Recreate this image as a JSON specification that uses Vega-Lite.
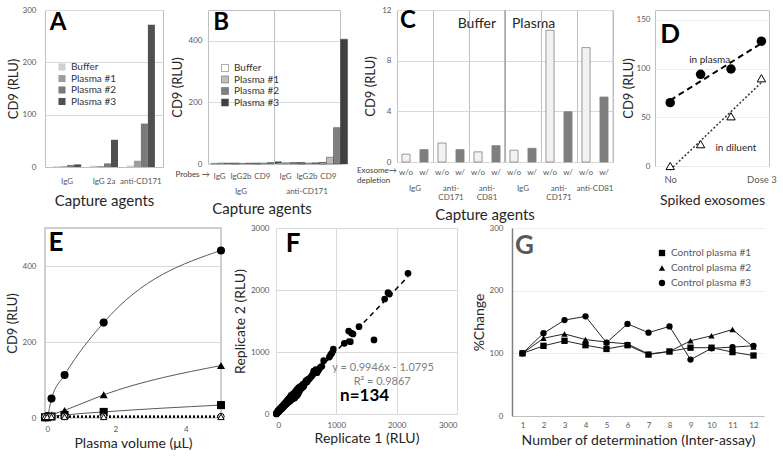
{
"$schema": "https://vega.github.io/schema/vega-lite/v6.json",
"background": "white",
"padding": 5,
"spacing": 1,
"bounds": "full",
"config": {
 "font": "Lato",
 "view": {"stroke": "#bfbfbf"},
 "axis": {"labelFontSize": 8, "labelColor": "#595959", "titleFontSize": 13, "titleFontWeight": "normal", "titleColor": "#262626", "ticks": false, "domainColor": "#bfbfbf", "gridColor": "#d9d9d9", "labelPadding": 7, "titlePadding": 3, "labelOverlap": false},
 "axisX": {"grid": false, "labelAngle": 0},
 "axisY": {"grid": true, "domain": false},
 "header": {"labelFontSize": 8, "labelColor": "#595959", "titleFontSize": 15, "titleFontWeight": "normal", "titleColor": "#262626"},
 "legend": {"labelFontSize": 10, "labelColor": "#333333"}
},
"resolve": {"scale": {"x": "independent", "y": "independent", "color": "independent", "shape": "independent"}, "axis": {"x": "independent", "y": "independent"}, "legend": {"color": "independent", "shape": "independent"}},
"vconcat": [
 {
  "spacing": 7,
  "bounds": "full",
  "resolve": {"scale": {"x": "independent", "y": "independent", "color": "independent", "shape": "independent"}, "axis": {"x": "independent", "y": "independent"}, "legend": {"color": "independent", "shape": "independent"}},
  "hconcat": [
   {
    "width": 118, "height": 157,
    "layer": [
     {
      "data": {"values": [
       {"agent": "IgG", "sample": "Buffer", "cd9": 1.5}, {"agent": "IgG", "sample": "Plasma #1", "cd9": 1.5}, {"agent": "IgG", "sample": "Plasma #2", "cd9": 4}, {"agent": "IgG", "sample": "Plasma #3", "cd9": 5},
       {"agent": "IgG 2a", "sample": "Buffer", "cd9": 2.5}, {"agent": "IgG 2a", "sample": "Plasma #1", "cd9": 2}, {"agent": "IgG 2a", "sample": "Plasma #2", "cd9": 7}, {"agent": "IgG 2a", "sample": "Plasma #3", "cd9": 52},
       {"agent": "anti-CD171", "sample": "Buffer", "cd9": 3}, {"agent": "anti-CD171", "sample": "Plasma #1", "cd9": 12}, {"agent": "anti-CD171", "sample": "Plasma #2", "cd9": 83}, {"agent": "anti-CD171", "sample": "Plasma #3", "cd9": 272}
      ]},
      "mark": {"type": "bar"},
      "encoding": {
       "x": {"field": "agent", "type": "nominal", "sort": ["IgG", "IgG 2a", "anti-CD171"], "scale": {"paddingInner": 0.24, "paddingOuter": 0.22}, "axis": {"title": "Capture agents", "labelPadding": 10, "titleFontSize": 15, "titlePadding": 8}},
       "xOffset": {"field": "sample", "type": "nominal", "sort": ["Buffer", "Plasma #1", "Plasma #2", "Plasma #3"]},
       "y": {"field": "cd9", "type": "quantitative", "scale": {"domain": [0, 300]}, "axis": {"values": [0, 100, 200, 300], "title": "CD9 (RLU)", "labelPadding": 9, "titlePadding": 2}},
       "color": {"field": "sample", "type": "nominal", "scale": {"domain": ["Buffer", "Plasma #1", "Plasma #2", "Plasma #3"], "range": ["#d0d0d0", "#9d9d9d", "#7a7a7a", "#505050"]}, "legend": {"title": null, "orient": "none", "legendX": 12, "legendY": 52, "symbolType": "square", "symbolSize": 50, "symbolStrokeWidth": 0, "rowPadding": 1.5}}
      }
     },
     {
      "data": {"values": [{}]},
      "mark": {"type": "text", "fontSize": 24, "fontWeight": "bold", "dx": -9, "baseline": "middle", "color": "#000000"},
      "encoding": {"x": {"datum": "IgG"}, "y": {"datum": 275}, "text": {"value": "A"}}
     }
    ]
   },
   {
    "data": {"values": [
     {"grp": "IgG", "probe": "IgG", "sample": "Buffer", "cd9": 2}, {"grp": "IgG", "probe": "IgG", "sample": "Plasma #1", "cd9": 3}, {"grp": "IgG", "probe": "IgG", "sample": "Plasma #2", "cd9": 3}, {"grp": "IgG", "probe": "IgG", "sample": "Plasma #3", "cd9": 3},
     {"grp": "IgG", "probe": "IgG2b", "sample": "Buffer", "cd9": 2}, {"grp": "IgG", "probe": "IgG2b", "sample": "Plasma #1", "cd9": 2}, {"grp": "IgG", "probe": "IgG2b", "sample": "Plasma #2", "cd9": 3}, {"grp": "IgG", "probe": "IgG2b", "sample": "Plasma #3", "cd9": 3},
     {"grp": "IgG", "probe": "CD9", "sample": "Buffer", "cd9": 2}, {"grp": "IgG", "probe": "CD9", "sample": "Plasma #1", "cd9": 3}, {"grp": "IgG", "probe": "CD9", "sample": "Plasma #2", "cd9": 5}, {"grp": "IgG", "probe": "CD9", "sample": "Plasma #3", "cd9": 7},
     {"grp": "anti-CD171", "probe": "IgG", "sample": "Buffer", "cd9": 3}, {"grp": "anti-CD171", "probe": "IgG", "sample": "Plasma #1", "cd9": 4}, {"grp": "anti-CD171", "probe": "IgG", "sample": "Plasma #2", "cd9": 5}, {"grp": "anti-CD171", "probe": "IgG", "sample": "Plasma #3", "cd9": 5},
     {"grp": "anti-CD171", "probe": "IgG2b", "sample": "Buffer", "cd9": 2}, {"grp": "anti-CD171", "probe": "IgG2b", "sample": "Plasma #1", "cd9": 3}, {"grp": "anti-CD171", "probe": "IgG2b", "sample": "Plasma #2", "cd9": 4}, {"grp": "anti-CD171", "probe": "IgG2b", "sample": "Plasma #3", "cd9": 5},
     {"grp": "anti-CD171", "probe": "CD9", "sample": "Buffer", "cd9": 3}, {"grp": "anti-CD171", "probe": "CD9", "sample": "Plasma #1", "cd9": 22}, {"grp": "anti-CD171", "probe": "CD9", "sample": "Plasma #2", "cd9": 118}, {"grp": "anti-CD171", "probe": "CD9", "sample": "Plasma #3", "cd9": 405},
     {"grp": "IgG", "note": "B"}, {"grp": "IgG", "note": "Probes →"}
    ]},
    "facet": {"column": {"field": "grp", "type": "nominal", "sort": ["IgG", "anti-CD171"], "header": {"labelOrient": "bottom", "titleOrient": "bottom", "title": "Capture agents", "labelPadding": 8, "titlePadding": -4}}},
    "spacing": 0,
    "bounds": "flush",
    "spec": {
     "width": 66, "height": 154,
     "layer": [
      {
       "transform": [{"filter": "isValid(datum.cd9)"}],
       "mark": {"type": "bar", "stroke": "#404040", "strokeWidth": 0.5},
       "encoding": {
        "x": {"field": "probe", "type": "nominal", "sort": ["IgG", "IgG2b", "CD9"], "scale": {"paddingInner": 0.17, "paddingOuter": 0.13}, "axis": {"title": null, "labelPadding": 8}},
        "xOffset": {"field": "sample", "type": "nominal", "sort": ["Buffer", "Plasma #1", "Plasma #2", "Plasma #3"]},
        "y": {"field": "cd9", "type": "quantitative", "scale": {"domain": [0, 500]}, "axis": {"values": [0, 100, 200, 300, 400, 500], "title": "CD9 (RLU)", "labelPadding": 6, "titlePadding": 4}},
        "color": {"field": "sample", "type": "nominal", "scale": {"domain": ["Buffer", "Plasma #1", "Plasma #2", "Plasma #3"], "range": ["#ffffff", "#bfbfbf", "#808080", "#404040"]}, "legend": {"title": null, "orient": "none", "legendX": 12, "legendY": 53, "symbolType": "square", "symbolSize": 50, "symbolStrokeColor": "#595959", "symbolStrokeWidth": 0.5, "rowPadding": 1.5}}
       }
      },
      {
       "transform": [{"filter": "datum.note == 'B'"}],
       "mark": {"type": "text", "fontSize": 24, "fontWeight": "bold", "dx": 1.5, "baseline": "middle", "color": "#000000"},
       "encoding": {"x": {"datum": "IgG"}, "y": {"datum": 459}, "text": {"field": "note"}}
      },
      {
       "transform": [{"filter": "datum.note == 'Probes →'"}],
       "mark": {"type": "text", "fontSize": 8, "align": "right", "baseline": "middle", "dx": -10, "color": "#404040"},
       "encoding": {"x": {"datum": "IgG"}, "y": {"datum": -36}, "text": {"field": "note"}}
      }
     ]
    }
   },
   {
    "data": {"values": [
     {"col": "Buffer/IgG", "dep": "w/o", "cd9": 0.62}, {"col": "Buffer/IgG", "dep": "w/", "cd9": 0.98},
     {"col": "Buffer/anti-CD171", "dep": "w/o", "cd9": 1.5}, {"col": "Buffer/anti-CD171", "dep": "w/", "cd9": 0.98},
     {"col": "Buffer/anti-CD81", "dep": "w/o", "cd9": 0.8}, {"col": "Buffer/anti-CD81", "dep": "w/", "cd9": 1.29},
     {"col": "Plasma/IgG", "dep": "w/o", "cd9": 0.93}, {"col": "Plasma/IgG", "dep": "w/", "cd9": 1.08},
     {"col": "Plasma/anti-CD171", "dep": "w/o", "cd9": 10.4}, {"col": "Plasma/anti-CD171", "dep": "w/", "cd9": 3.97},
     {"col": "Plasma/anti-CD81", "dep": "w/o", "cd9": 9.03}, {"col": "Plasma/anti-CD81", "dep": "w/", "cd9": 5.13},
     {"col": "Buffer/IgG", "note": "C"}, {"col": "Buffer/anti-CD81", "note": "Buffer"}, {"col": "Plasma/IgG", "note": "Plasma"},
     {"col": "Buffer/IgG", "note": "Exosome→\ndepletion"}, {"col": "Plasma/IgG", "note": "sep"}, {"col": "Plasma/anti-CD81", "note": "edge"}
    ]},
    "facet": {"column": {"field": "col", "type": "nominal", "sort": ["Buffer/IgG", "Buffer/anti-CD171", "Buffer/anti-CD81", "Plasma/IgG", "Plasma/anti-CD171", "Plasma/anti-CD81"], "header": {"labelOrient": "bottom", "titleOrient": "bottom", "title": "Capture agents", "labelPadding": 9, "titlePadding": -4, "labelLineHeight": 9, "labelExpr": "datum.value == 'Plasma/anti-CD81' ? 'anti-CD81' : (datum.value == 'Buffer/IgG' || datum.value == 'Plasma/IgG' ? 'IgG' : ['anti-', substring(datum.value, indexof(datum.value, 'anti-') + 5)])"}}},
    "spacing": 0,
    "bounds": "flush",
    "spec": {
     "width": 36, "height": 152,
     "layer": [
      {
       "transform": [{"filter": "isValid(datum.cd9)"}],
       "mark": {"type": "bar", "stroke": "#808080", "strokeWidth": 0.8},
       "encoding": {
        "x": {"field": "dep", "type": "nominal", "sort": ["w/o", "w/"], "scale": {"paddingInner": 0.55, "paddingOuter": 0.275}, "axis": {"title": null, "labelPadding": 6, "domainColor": "#bfbfbf"}},
        "y": {"field": "cd9", "type": "quantitative", "scale": {"domain": [0, 12]}, "axis": {"values": [0, 2, 4, 6, 8, 10, 12], "title": "CD9 (RLU)", "labelPadding": 6, "titlePadding": 4}},
        "color": {"field": "dep", "type": "nominal", "scale": {"domain": ["w/o", "w/"], "range": ["#f2f2f2", "#7f7f7f"]}, "legend": null}
       }
      },
      {
       "transform": [{"filter": "datum.note == 'sep'"}],
       "mark": {"type": "rule", "color": "#a6a6a6", "strokeWidth": 1.5, "xOffset": -4.95},
       "encoding": {"x": {"datum": "w/o", "bandPosition": 0}}
      },
      {
       "transform": [{"filter": "datum.note == 'edge'"}],
       "mark": {"type": "rule", "color": "#bfbfbf", "strokeWidth": 1, "xOffset": 4.95},
       "encoding": {"x": {"datum": "w/", "bandPosition": 1}}
      },
      {
       "transform": [{"filter": "datum.note == 'C'"}],
       "mark": {"type": "text", "fontSize": 24, "fontWeight": "bold", "align": "left", "dx": -6, "baseline": "middle", "color": "#000000"},
       "encoding": {"x": {"datum": "w/o"}, "y": {"datum": 11.1}, "text": {"field": "note"}}
      },
      {
       "transform": [{"filter": "datum.note == 'Buffer'"}],
       "mark": {"type": "text", "fontSize": 14, "align": "right", "dx": 0, "baseline": "middle", "color": "#262626"},
       "encoding": {"x": {"datum": "w/"}, "y": {"datum": 10.9}, "text": {"field": "note"}}
      },
      {
       "transform": [{"filter": "datum.note == 'Plasma'"}],
       "mark": {"type": "text", "fontSize": 14, "align": "left", "dx": -2, "baseline": "middle", "color": "#262626"},
       "encoding": {"x": {"datum": "w/o"}, "y": {"datum": 10.9}, "text": {"field": "note"}}
      },
      {
       "transform": [{"filter": "datum.note == 'Exosome→\\ndepletion'"}],
       "mark": {"type": "text", "fontSize": 8, "align": "left", "dx": -49, "baseline": "top", "lineBreak": "\n", "lineHeight": 10, "color": "#404040"},
       "encoding": {"x": {"datum": "w/o"}, "y": {"datum": -0.4}, "text": {"field": "note"}}
      }
     ]
    }
   },
   {
    "width": 114, "height": 156,
    "layer": [
     {
      "data": {"values": [
       {"dose": 0, "cd9": 65, "cond": "in plasma"}, {"dose": 1, "cd9": 94, "cond": "in plasma"}, {"dose": 2, "cd9": 99.5, "cond": "in plasma"}, {"dose": 3, "cd9": 128, "cond": "in plasma"}
      ]},
      "transform": [{"regression": "cd9", "on": "dose"}],
      "mark": {"type": "line", "color": "#000000", "strokeDash": [6, 4], "strokeWidth": 2},
      "encoding": {
       "x": {"field": "dose", "type": "quantitative", "scale": {"domain": [-0.5, 3.25], "nice": false, "zero": false}, "axis": {"values": [0, 1, 2, 3], "labelExpr": "['No', 'Dose 1', 'Dose 2', 'Dose 3'][datum.value]", "title": "Spiked exosomes", "titleFontSize": 14, "labelFontSize": 9.5, "labelPadding": 8, "titlePadding": 10, "domain": false}},
       "y": {"field": "cd9", "type": "quantitative", "scale": {"domain": [0, 150]}, "axis": {"values": [0, 50, 100, 150], "title": "CD9 (RLU)", "labelPadding": 5, "titlePadding": 1, "gridColor": "#ececec"}}
      }
     },
     {
      "data": {"values": [
       {"dose": 0, "cd9": 0, "cond": "in diluent"}, {"dose": 1, "cd9": 22.4, "cond": "in diluent"}, {"dose": 2, "cd9": 51, "cond": "in diluent"}, {"dose": 3, "cd9": 90, "cond": "in diluent"}
      ]},
      "transform": [{"regression": "cd9", "on": "dose"}],
      "mark": {"type": "line", "color": "#333333", "strokeDash": [2, 2], "strokeWidth": 1.5},
      "encoding": {"x": {"field": "dose", "type": "quantitative"}, "y": {"field": "cd9", "type": "quantitative"}}
     },
     {
      "data": {"values": [
       {"dose": 0, "cd9": 65, "cond": "in plasma"}, {"dose": 1, "cd9": 94, "cond": "in plasma"}, {"dose": 2, "cd9": 99.5, "cond": "in plasma"}, {"dose": 3, "cd9": 128, "cond": "in plasma"}
      ]},
      "mark": {"type": "point", "shape": "circle", "filled": true, "size": 90, "color": "#000000", "opacity": 1},
      "encoding": {"x": {"field": "dose", "type": "quantitative"}, "y": {"field": "cd9", "type": "quantitative"}}
     },
     {
      "data": {"values": [
       {"dose": 0, "cd9": 0, "cond": "in diluent"}, {"dose": 1, "cd9": 22.4, "cond": "in diluent"}, {"dose": 2, "cd9": 51, "cond": "in diluent"}, {"dose": 3, "cd9": 90, "cond": "in diluent"}
      ]},
      "mark": {"type": "point", "shape": "triangle-up", "filled": true, "fill": "#ffffff", "stroke": "#000000", "strokeWidth": 1, "size": 70, "opacity": 1},
      "encoding": {"x": {"field": "dose", "type": "quantitative"}, "y": {"field": "cd9", "type": "quantitative"}}
     },
     {
      "data": {"values": [{"dose": 1.3, "cd9": 109, "label": "in plasma"}, {"dose": 2.16, "cd9": 18, "label": "in diluent"}]},
      "mark": {"type": "text", "fontSize": 10, "color": "#262626", "baseline": "middle"},
      "encoding": {"x": {"field": "dose", "type": "quantitative"}, "y": {"field": "cd9", "type": "quantitative"}, "text": {"field": "label", "type": "nominal"}}
     },
     {
      "data": {"values": [{"dose": 0, "cd9": 134, "label": "D"}]},
      "mark": {"type": "text", "fontSize": 26, "fontWeight": "bold", "color": "#000000", "baseline": "middle"},
      "encoding": {"x": {"field": "dose", "type": "quantitative"}, "y": {"field": "cd9", "type": "quantitative"}, "text": {"field": "label", "type": "nominal"}}
     }
    ]
   }
  ]
 },
 {
  "spacing": 55,
  "bounds": "flush",
  "resolve": {"scale": {"x": "independent", "y": "independent", "color": "independent", "shape": "independent"}, "axis": {"x": "independent", "y": "independent"}, "legend": {"color": "independent", "shape": "independent"}},
  "hconcat": [
   {
    "width": 176, "height": 190,
    "view": {"stroke": "#bfbfbf", "strokeWidth": 1.5},
    "layer": [
     {
      "data": {"values": [
       {"vol": 0, "cd9": 2, "s": "S1"}, {"vol": 0.062, "cd9": 5, "s": "S1"}, {"vol": 0.185, "cd9": 51, "s": "S1"}, {"vol": 0.556, "cd9": 113, "s": "S1"}, {"vol": 1.667, "cd9": 251, "s": "S1"}, {"vol": 5, "cd9": 441, "s": "S1"},
       {"vol": 0, "cd9": 2, "s": "S2"}, {"vol": 0.062, "cd9": 3, "s": "S2"}, {"vol": 0.185, "cd9": 8, "s": "S2"}, {"vol": 0.556, "cd9": 20, "s": "S2"}, {"vol": 1.667, "cd9": 61, "s": "S2"}, {"vol": 5, "cd9": 138, "s": "S2"},
       {"vol": 0, "cd9": 2, "s": "S3"}, {"vol": 0.062, "cd9": 2, "s": "S3"}, {"vol": 0.185, "cd9": 4, "s": "S3"}, {"vol": 0.556, "cd9": 8, "s": "S3"}, {"vol": 1.667, "cd9": 16, "s": "S3"}, {"vol": 5, "cd9": 34, "s": "S3"},
       {"vol": 0, "cd9": 4, "s": "S4"}, {"vol": 0.062, "cd9": 4, "s": "S4"}, {"vol": 0.185, "cd9": 4, "s": "S4"}, {"vol": 0.556, "cd9": 4, "s": "S4"}, {"vol": 1.667, "cd9": 4, "s": "S4"}, {"vol": 5, "cd9": 4, "s": "S4"},
       {"vol": 0, "cd9": 3, "s": "S5"}, {"vol": 0.062, "cd9": 3, "s": "S5"}, {"vol": 0.185, "cd9": 3, "s": "S5"}, {"vol": 0.556, "cd9": 3, "s": "S5"}, {"vol": 1.667, "cd9": 3, "s": "S5"}, {"vol": 5, "cd9": 3, "s": "S5"}
      ]},
      "layer": [
       {"transform": [{"filter": "datum.s == 'S1' || datum.s == 'S2' || datum.s == 'S3'"}], "mark": {"type": "line", "color": "#595959", "strokeWidth": 1, "interpolate": "monotone"},
        "encoding": {
         "x": {"field": "vol", "type": "quantitative", "scale": {"domain": [0, 5]}, "axis": {"values": [0, 1, 2, 3, 4, 5], "title": "Plasma volume (μL)", "titleFontSize": 14, "labelPadding": 7, "titlePadding": 3, "domain": false}},
         "y": {"field": "cd9", "type": "quantitative", "scale": {"domain": [0, 500]}, "axis": {"values": [0, 100, 200, 300, 400, 500], "title": "CD9 (RLU)", "labelPadding": 9, "titlePadding": 3}},
         "detail": {"field": "s"}
        }},
       {"transform": [{"filter": "datum.s == 'S4' || datum.s == 'S5'"}], "mark": {"type": "line", "color": "#000000", "strokeWidth": 2, "strokeDash": [2, 2]},
        "encoding": {"x": {"field": "vol", "type": "quantitative"}, "y": {"field": "cd9", "type": "quantitative"}, "detail": {"field": "s"}}},
       {"transform": [{"filter": "datum.s == 'S1' || datum.s == 'S2' || datum.s == 'S3'"}], "mark": {"type": "point", "filled": true, "color": "#000000", "size": 65, "opacity": 1},
        "encoding": {"x": {"field": "vol", "type": "quantitative"}, "y": {"field": "cd9", "type": "quantitative"}, "shape": {"field": "s", "type": "nominal", "scale": {"domain": ["S1", "S2", "S3", "S4", "S5"], "range": ["circle", "triangle-up", "square", "circle", "triangle-up"]}, "legend": null}}},
       {"transform": [{"filter": "datum.s == 'S4' || datum.s == 'S5'"}], "mark": {"type": "point", "filled": true, "fill": "#ffffff", "stroke": "#000000", "strokeWidth": 1, "size": 40, "opacity": 1},
        "encoding": {"x": {"field": "vol", "type": "quantitative"}, "y": {"field": "cd9", "type": "quantitative"}, "shape": {"field": "s", "type": "nominal", "scale": {"domain": ["S1", "S2", "S3", "S4", "S5"], "range": ["circle", "triangle-up", "square", "circle", "triangle-up"]}, "legend": null}}}
      ]
     },
     {
      "data": {"values": [{"vol": 0.31, "cd9": 460, "label": "E"}]},
      "mark": {"type": "text", "fontSize": 26, "fontWeight": "bold", "color": "#000000", "baseline": "middle"},
      "encoding": {"x": {"field": "vol", "type": "quantitative"}, "y": {"field": "cd9", "type": "quantitative"}, "text": {"field": "label", "type": "nominal"}}
     }
    ]
   },
   {
    "width": 181, "height": 186,
    "view": {"stroke": null},
    "layer": [
     {
      "data": {"values": [
       {"r1": 2188, "r2": 2269}, {"r1": 1856, "r2": 1957}, {"r1": 1801, "r2": 1855}, {"r1": 1880, "r2": 1935}, {"r1": 1624, "r2": 1194}, {"r1": 1376, "r2": 1409}, {"r1": 1204, "r2": 1339}, {"r1": 1276, "r2": 1290}, {"r1": 1232, "r2": 1167}, {"r1": 1133, "r2": 1140},
       {"r1": 1250, "r2": 1305}, {"r1": 950, "r2": 1048}, {"r1": 923, "r2": 978}, {"r1": 884, "r2": 919}, {"r1": 905, "r2": 955}, {"r1": 790, "r2": 860}, {"r1": 735, "r2": 753}, {"r1": 646, "r2": 694}, {"r1": 680, "r2": 667}, {"r1": 700, "r2": 700},
       {"r1": 715, "r2": 725}, {"r1": 660, "r2": 715}, {"r1": 625, "r2": 690}, {"r1": 760, "r2": 770}, {"r1": 560, "r2": 575}, {"r1": 540, "r2": 555}, {"r1": 514, "r2": 516}, {"r1": 500, "r2": 540}, {"r1": 480, "r2": 500}, {"r1": 465, "r2": 470},
       {"r1": 445, "r2": 480}, {"r1": 425, "r2": 455}, {"r1": 403, "r2": 441}, {"r1": 400, "r2": 410}, {"r1": 390, "r2": 430}, {"r1": 380, "r2": 400}, {"r1": 372, "r2": 420}, {"r1": 362, "r2": 380}, {"r1": 352, "r2": 372}, {"r1": 342, "r2": 390},
       {"r1": 332, "r2": 352}, {"r1": 322, "r2": 340}, {"r1": 312, "r2": 330}, {"r1": 305, "r2": 322}, {"r1": 300, "r2": 280}, {"r1": 292, "r2": 312}, {"r1": 282, "r2": 300}, {"r1": 272, "r2": 290}, {"r1": 262, "r2": 272}, {"r1": 252, "r2": 280},
       {"r1": 242, "r2": 252}, {"r1": 232, "r2": 242}, {"r1": 222, "r2": 250}, {"r1": 212, "r2": 222}, {"r1": 202, "r2": 212}, {"r1": 192, "r2": 202}, {"r1": 182, "r2": 190}, {"r1": 172, "r2": 182}, {"r1": 162, "r2": 172}, {"r1": 152, "r2": 162},
       {"r1": 142, "r2": 150}, {"r1": 132, "r2": 136}, {"r1": 122, "r2": 126}, {"r1": 112, "r2": 116}, {"r1": 102, "r2": 106}, {"r1": 95, "r2": 90}, {"r1": 90, "r2": 96}, {"r1": 85, "r2": 80}, {"r1": 80, "r2": 86}, {"r1": 75, "r2": 70},
       {"r1": 70, "r2": 76}, {"r1": 65, "r2": 60}, {"r1": 60, "r2": 63}, {"r1": 55, "r2": 50}, {"r1": 50, "r2": 56}, {"r1": 45, "r2": 40}, {"r1": 40, "r2": 46}, {"r1": 35, "r2": 30}, {"r1": 30, "r2": 36}, {"r1": 25, "r2": 20},
       {"r1": 20, "r2": 26}, {"r1": 15, "r2": 10}, {"r1": 10, "r2": 14}, {"r1": 5, "r2": 6}, {"r1": 8, "r2": 2}, {"r1": 350, "r2": 300}, {"r1": 330, "r2": 290}, {"r1": 310, "r2": 260}, {"r1": 370, "r2": 330}, {"r1": 340, "r2": 320},
       {"r1": 290, "r2": 250}, {"r1": 260, "r2": 240}, {"r1": 240, "r2": 215}, {"r1": 220, "r2": 200}, {"r1": 200, "r2": 185}, {"r1": 180, "r2": 170}, {"r1": 160, "r2": 150}, {"r1": 140, "r2": 130}, {"r1": 120, "r2": 110}, {"r1": 100, "r2": 90},
       {"r1": 420, "r2": 410}, {"r1": 440, "r2": 430}, {"r1": 460, "r2": 450}, {"r1": 390, "r2": 370}, {"r1": 310, "r2": 350}, {"r1": 280, "r2": 320}, {"r1": 250, "r2": 300}, {"r1": 230, "r2": 270}, {"r1": 210, "r2": 245}, {"r1": 190, "r2": 225},
       {"r1": 170, "r2": 200}, {"r1": 150, "r2": 175}, {"r1": 130, "r2": 155}, {"r1": 110, "r2": 130}, {"r1": 90, "r2": 110}, {"r1": 70, "r2": 90}, {"r1": 50, "r2": 70}, {"r1": 30, "r2": 50}, {"r1": 600, "r2": 620}, {"r1": 580, "r2": 600},
       {"r1": 610, "r2": 640}, {"r1": 530, "r2": 560}, {"r1": 490, "r2": 520}, {"r1": 450, "r2": 440}, {"r1": 360, "r2": 400}, {"r1": 335, "r2": 365}, {"r1": 315, "r2": 300}, {"r1": 295, "r2": 285}, {"r1": 275, "r2": 270}, {"r1": 255, "r2": 255},
       {"r1": 235, "r2": 230}, {"r1": 215, "r2": 210}, {"r1": 195, "r2": 195}, {"r1": 175, "r2": 175}
      ]},
      "layer": [
       {"transform": [{"regression": "r2", "on": "r1"}], "mark": {"type": "line", "color": "#000000", "strokeDash": [5, 4], "strokeWidth": 1.5},
        "encoding": {
         "x": {"field": "r1", "type": "quantitative", "scale": {"domain": [0, 3000]}, "axis": {"values": [0, 1000, 2000, 3000], "format": "d", "grid": true, "title": "Replicate 1 (RLU)", "titleFontSize": 14, "labelPadding": 7, "titlePadding": 2, "domain": false}},
         "y": {"field": "r2", "type": "quantitative", "scale": {"domain": [0, 3000]}, "axis": {"values": [0, 1000, 2000, 3000], "format": "d", "title": "Replicate 2 (RLU)", "titleFontSize": 14, "labelPadding": 7, "titlePadding": 3}}
        }},
       {"mark": {"type": "point", "shape": "circle", "filled": true, "color": "#000000", "size": 45, "opacity": 1},
        "encoding": {"x": {"field": "r1", "type": "quantitative"}, "y": {"field": "r2", "type": "quantitative"}}}
      ]
     },
     {
      "data": {"values": [{"r1": 1776, "r2": 742, "label": "y = 0.9946x - 1.0795"}, {"r1": 1760, "r2": 516, "label": "R² = 0.9867"}]},
      "mark": {"type": "text", "fontSize": 11, "color": "#7f7f7f", "baseline": "middle"},
      "encoding": {"x": {"field": "r1", "type": "quantitative"}, "y": {"field": "r2", "type": "quantitative"}, "text": {"field": "label", "type": "nominal"}}
     },
     {
      "data": {"values": [{"r1": 1062, "r2": 290, "label": "n=134"}]},
      "mark": {"type": "text", "fontSize": 17, "fontWeight": "bold", "color": "#000000", "align": "left", "baseline": "middle"},
      "encoding": {"x": {"field": "r1", "type": "quantitative"}, "y": {"field": "r2", "type": "quantitative"}, "text": {"field": "label", "type": "nominal"}}
     },
     {
      "data": {"values": [{"r1": 282, "r2": 2742, "label": "F"}]},
      "mark": {"type": "text", "fontSize": 26, "fontWeight": "bold", "color": "#000000", "baseline": "middle"},
      "encoding": {"x": {"field": "r1", "type": "quantitative"}, "y": {"field": "r2", "type": "quantitative"}, "text": {"field": "label", "type": "nominal"}}
     }
    ]
   },
   {
    "width": 252, "height": 188,
    "view": {"stroke": null},
    "layer": [
     {
      "data": {"values": [
       {"det": 1, "pct": 100, "series": "Control plasma #1"}, {"det": 2, "pct": 112, "series": "Control plasma #1"}, {"det": 3, "pct": 120, "series": "Control plasma #1"}, {"det": 4, "pct": 113, "series": "Control plasma #1"}, {"det": 5, "pct": 107, "series": "Control plasma #1"}, {"det": 6, "pct": 113, "series": "Control plasma #1"}, {"det": 7, "pct": 98, "series": "Control plasma #1"}, {"det": 8, "pct": 103, "series": "Control plasma #1"}, {"det": 9, "pct": 109, "series": "Control plasma #1"}, {"det": 10, "pct": 109, "series": "Control plasma #1"}, {"det": 11, "pct": 102, "series": "Control plasma #1"}, {"det": 12, "pct": 96.5, "series": "Control plasma #1"},
       {"det": 1, "pct": 100, "series": "Control plasma #2"}, {"det": 2, "pct": 124, "series": "Control plasma #2"}, {"det": 3, "pct": 131, "series": "Control plasma #2"}, {"det": 4, "pct": 122, "series": "Control plasma #2"}, {"det": 5, "pct": 118, "series": "Control plasma #2"}, {"det": 6, "pct": 115, "series": "Control plasma #2"}, {"det": 7, "pct": 99, "series": "Control plasma #2"}, {"det": 8, "pct": 103, "series": "Control plasma #2"}, {"det": 9, "pct": 120, "series": "Control plasma #2"}, {"det": 10, "pct": 128, "series": "Control plasma #2"}, {"det": 11, "pct": 138, "series": "Control plasma #2"}, {"det": 12, "pct": 110, "series": "Control plasma #2"},
       {"det": 1, "pct": 100, "series": "Control plasma #3"}, {"det": 2, "pct": 132, "series": "Control plasma #3"}, {"det": 3, "pct": 153, "series": "Control plasma #3"}, {"det": 4, "pct": 159, "series": "Control plasma #3"}, {"det": 5, "pct": 117, "series": "Control plasma #3"}, {"det": 6, "pct": 147, "series": "Control plasma #3"}, {"det": 7, "pct": 133, "series": "Control plasma #3"}, {"det": 8, "pct": 143, "series": "Control plasma #3"}, {"det": 9, "pct": 90, "series": "Control plasma #3"}, {"det": 10, "pct": 108, "series": "Control plasma #3"}, {"det": 11, "pct": 110, "series": "Control plasma #3"}, {"det": 12, "pct": 112, "series": "Control plasma #3"}
      ]},
      "layer": [
       {"mark": {"type": "line", "color": "#262626", "strokeWidth": 1},
        "encoding": {
         "x": {"field": "det", "type": "ordinal", "scale": {"type": "point", "padding": 0.5}, "axis": {"title": "Number of determination (Inter-assay)", "titleFontSize": 14, "labelPadding": 5, "titlePadding": 4}},
         "y": {"field": "pct", "type": "quantitative", "scale": {"domain": [0, 300]}, "axis": {"values": [0, 100, 200, 300], "title": "%Change", "titleFontSize": 14, "labelPadding": 9, "titlePadding": 3, "domain": true, "domainColor": "#808080", "domainWidth": 1.5, "gridColor": "#ececec"}},
         "detail": {"field": "series"}
        }},
       {"mark": {"type": "point", "filled": true, "color": "#000000", "size": 40, "opacity": 1},
        "encoding": {
         "x": {"field": "det", "type": "ordinal"},
         "y": {"field": "pct", "type": "quantitative"},
         "shape": {"field": "series", "type": "nominal", "scale": {"domain": ["Control plasma #1", "Control plasma #2", "Control plasma #3"], "range": ["square", "triangle-up", "circle"]}, "legend": {"title": null, "orient": "none", "legendX": 145, "legendY": 20, "labelColor": "#595959", "labelFontSize": 10, "symbolFillColor": "#000000", "symbolStrokeColor": "#000000", "symbolSize": 40, "rowPadding": 2}}
        }}
      ]
     },
     {
      "data": {"values": [{"det": 1, "pct": 271, "label": "G"}]},
      "mark": {"type": "text", "fontSize": 26, "fontWeight": "bold", "color": "#595959", "baseline": "middle", "dx": 2},
      "encoding": {"x": {"field": "det", "type": "ordinal"}, "y": {"field": "pct", "type": "quantitative"}, "text": {"field": "label", "type": "nominal"}}
     }
    ]
   }
  ]
 }
]
}
